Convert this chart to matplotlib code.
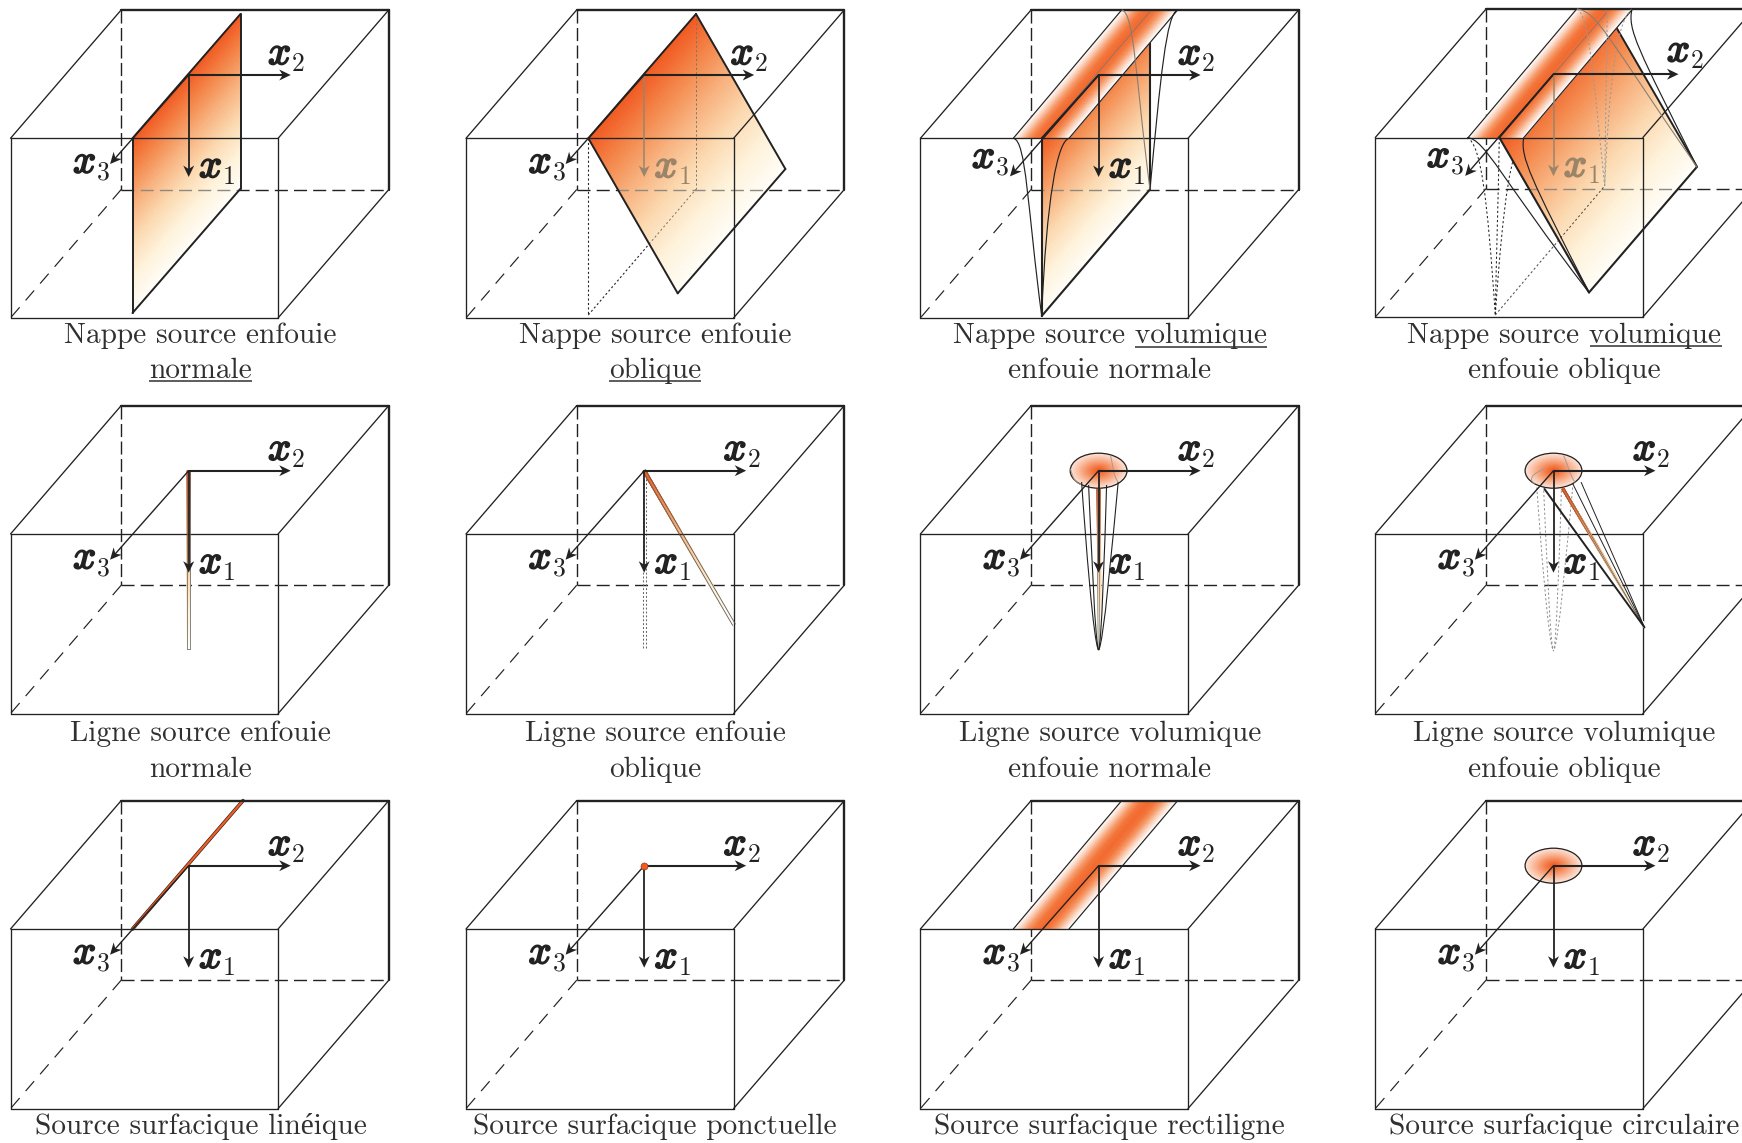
import numpy as np
import matplotlib
matplotlib.use("Agg")
import matplotlib.pyplot as plt
import matplotlib.patheffects as pe
from matplotlib.colors import LinearSegmentedColormap
from matplotlib.patches import Ellipse, PathPatch, Polygon
from matplotlib.path import Path

plt.rcParams['lines.scale_dashes'] = False

# panel grid, in picture pixels
col_left = [10.5, 466, 920.4, 1375.3]
row_top = [138.3, 534, 929]
box_w = 267.6
box_h = 179.6
depth = (110.7, -128.4)

# axes, relative to the front top left corner of the box
origin = (178.2, -63.3)
x1_len = 102
x2_len = 102
x3_tip = (-78.6, 89)

captions = [
    ["Nappe source enfouie\nnormale", "Nappe source enfouie\noblique",
     "Nappe source volumique\nenfouie normale", "Nappe source volumique\nenfouie oblique"],
    ["Ligne source enfouie\nnormale", "Ligne source enfouie\noblique",
     "Ligne source volumique\nenfouie normale", "Ligne source volumique\nenfouie oblique"],
    ["Source surfacique linéique", "Source surfacique ponctuelle",
     "Source surfacique rectiligne", "Source surfacique circulaire"],
]
caption_x = [200.5, 655, 1109.7, 1564]
caption_y = [(343, 378), (741, 777), (1133.5, None)]
underlines = [(149, 252, 381), (609, 701, 381), (1135, 1267, 346.5), (1590, 1722, 345.7)]

# source shapes, relative to the front top left corner
sheet_normal = [(122, 0), (230, -124.3), (122, 174.7)]
sheet_oblique = [(122.3, 0), (230, -124.3), (211.7, 155)]
sheet_vol_normal = [(121.3, 0), (229.6, -126.6), (121.3, 177.7)]
sheet_vol_oblique = [(124, 0), (232, -125.7), (213.7, 155)]
strip_front = (92.9, 148.6)
strip_back = (201.3, 257.3)
line_normal_end = (178.2, 115)
line_oblique_end = (268, 90.7)
disc_r = (28.4, 17.5)

normal_curves = [
    [(92.9, 0), (106, 2), (107, 70), (121.3, 177.7)],
    [(148.6, 0), (137, 3), (126, 60), (121.3, 177.7)],
    [(257.3, -128.3), (246, -125), (240, -60), (229.6, 51)],
]
normal_curve_grey = [(201.3, -128.3), (214, -126), (215, -60), (229.6, 51)]

oblique_curves = [
    [(92, 0), (110, 2), (125, 40), (213.7, 155)],
    [(148.4, 0), (145, 20), (155, 40), (213.7, 155)],
    [(256.7, -128.5), (252, -108), (262, -90), (322, 30)],
]
oblique_curve_grey = [(201.7, -128.5), (222, -126), (232, -100), (322, 30)]
oblique_dotted = [
    [(92, 0), (106, 8), (112, 60), (120, 177.5)],
    [(124, 0), (123, 60), (121, 120), (120, 177.5)],
    [(148.4, 0), (136, 10), (128, 60), (120, 177.5)],
]
oblique_dotted_grey = [
    [(201.7, -128.5), (214, -122), (218, -60), (229.4, 48.5)],
    [(232, -126), (231, -60), (230, 0), (229.4, 48.5)],
    [(256.7, -128.5), (240, -115), (234, -50), (229.4, 48.5)],
]

# cone starts, relative to the cone tip
cone_outer = [(-17, -168), (-13, -110), (-5, -6), (0, 0)]
cone_inner = [(-10, -165), (-7, -100), (-3.5, -6), (0, 0)]
cone_outer_r = [(19.6, -168), (14, -110), (5, -6), (0, 0)]
cone_inner_r = [(8, -165), (6, -100), (3, -6), (0, 0)]
oblique_line_starts = [(19.4, 13.3), (27.7, 11.7)]
oblique_line_bold = (-9, 18.3)
oblique_line_mid = (9.4, 18)
cone_oblique_end = (91, 156.7)

orange = "#f15a22"
ink = "#222222"
cap_ink = "#303030"
grey_arrow = "#9b8468"

sheet_cmap = LinearSegmentedColormap.from_list(
    "sheet", ["#f15a22", "#f48a4e", "#f8b684", "#fcdcb4", "#fef3dc", "#fffef8"])
strip_cmap = LinearSegmentedColormap.from_list(
    "strip", ["#ffffff", "#fbd3bd", "#f79a68", "#f3773d", "#f26a30", "#f3773d", "#f79a68", "#fbd3bd", "#ffffff"])
disc_cmap = LinearSegmentedColormap.from_list(
    "disc", ["#f15a22", "#f58654", "#f9b898", "#fde6db"])


def rel(f, pts):
    return [(f[0] + p[0], f[1] + p[1]) for p in pts]


def seg(ax, a, b, lw=0.95, color=ink, z=3, dashes=None):
    line, = ax.plot([a[0], b[0]], [a[1], b[1]], lw=lw, color=color, zorder=z,
                    solid_capstyle="round")
    if dashes:
        line.set_dashes(dashes)
    return line


def bez(ax, pts, lw=0.8, color=ink, z=4, ls="-"):
    path = Path(pts, [Path.MOVETO, Path.CURVE4, Path.CURVE4, Path.CURVE4])
    ax.add_patch(PathPatch(path, fc="none", ec=color, lw=lw, zorder=z, ls=ls))


def grad_quad(ax, p00, p01, p10, cmap=sheet_cmap, across=False, z=2):
    # parallelogram filled along p00->p10, or along p00->p01 when across is set
    u = np.linspace(0, 1, 30)
    uu, vv = np.meshgrid(u, u)
    p00, p01, p10 = np.array(p00), np.array(p01), np.array(p10)
    X = p00[0] + uu * (p01[0] - p00[0]) + vv * (p10[0] - p00[0])
    Y = p00[1] + uu * (p01[1] - p00[1]) + vv * (p10[1] - p00[1])
    ax.pcolormesh(X, Y, uu if across else vv, shading="gouraud", cmap=cmap,
                  vmin=0, vmax=1, zorder=z)


def disc(ax, c, z=3.5):
    r = np.linspace(0, 1, 24)
    t = np.linspace(0, 2 * np.pi, 73)
    rr, tt = np.meshgrid(r, t)
    X = c[0] + disc_r[0] * rr * np.cos(tt)
    Y = c[1] + disc_r[1] * rr * np.sin(tt)
    ax.pcolormesh(X, Y, rr, shading="gouraud", cmap=disc_cmap, vmin=0, vmax=1, zorder=z)
    ax.add_patch(Ellipse(c, 2 * disc_r[0], 2 * disc_r[1], fc="none", ec=ink, lw=0.9, zorder=z + 0.1))


def strip(ax, f):
    fl, fr = strip_front
    bl, br = strip_back
    grad_quad(ax, (f[0] + fl, f[1]), (f[0] + fr, f[1]),
              (f[0] + bl, f[1] + depth[1]), cmap=strip_cmap, across=True, z=2.6)
    seg(ax, (f[0] + fl, f[1]), (f[0] + bl, f[1] + depth[1]), lw=0.85, z=2.7)
    seg(ax, (f[0] + fr, f[1]), (f[0] + br, f[1] + depth[1]), lw=0.85, z=2.7)


def arrow(ax, a, b, lw=1.4, color=ink, z=5):
    a, b = np.array(a, float), np.array(b, float)
    d = (b - a) / np.hypot(*(b - a))
    n = np.array([-d[1], d[0]])
    seg(ax, a, b - 4 * d, lw=lw, color=color, z=z)
    ax.add_patch(Polygon([b, b - 11.5 * d + 5.5 * n, b - 8 * d, b - 11.5 * d - 5.5 * n],
                         closed=True, fc=color, ec="none", zorder=z))


def axis_label(ax, x, y, sub, color=ink):
    ax.text(x, y, "x", family="cmmi10", fontsize=29, color=color, ha="left", va="baseline", zorder=6,
            path_effects=[pe.withStroke(linewidth=1.3, foreground=color)])
    ax.text(x + 24, y + 7, sub, family="cmr10", fontsize=18.5,
            color=color, ha="left", va="baseline", zorder=6)


back_h = (9.4, 4.4)


def box(ax, f):
    x, y = f
    dx, dy = depth
    w, h = box_w, box_h
    back_v = (9.4, 3.2)
    back_d = (9.4, 6.6)
    seg(ax, (x + dx, y + dy), (x + dx, y + dy + h), lw=1.0, z=1, dashes=back_v)
    seg(ax, (x + dx, y + dy + h), (x + dx + w, y + dy + h), lw=1.0, z=1, dashes=back_h)
    seg(ax, (x + dx, y + dy + h), (x, y + h), lw=0.85, z=1, dashes=back_d)
    seg(ax, (x, y), (x + w, y))
    seg(ax, (x, y + h), (x + w, y + h))
    seg(ax, (x, y), (x, y + h))
    seg(ax, (x + w, y), (x + w, y + h))
    seg(ax, (x, y), (x + dx, y + dy))
    seg(ax, (x + w, y), (x + w + dx, y + dy))
    seg(ax, (x + w, y + h), (x + w + dx, y + h + dy))
    seg(ax, (x + dx, y + dy), (x + dx + w, y + dy), lw=1.7)
    seg(ax, (x + w + dx, y + dy), (x + w + dx, y + dy + h), lw=1.7)


def sheet(ax, f, corners, outline=True):
    a, b, c = rel(f, corners)
    d = (b[0] + c[0] - a[0], b[1] + c[1] - a[1])
    grad_quad(ax, a, b, c)
    # back edge of the box, seen through the sheet
    clip = Polygon([a, b, d, c], closed=True, transform=ax.transData)
    ghost = seg(ax, (f[0] + depth[0], f[1] + depth[1] + box_h),
                (f[0] + depth[0] + box_w, f[1] + depth[1] + box_h),
                lw=1.0, color="#8f8a80", z=2.1, dashes=back_h)
    ghost.set_clip_path(clip)
    if outline:
        for p, q in [(a, b), (b, d), (d, c), (c, a)]:
            seg(ax, p, q, lw=1.4, z=3.2)
    return a, b, c, d


fig = plt.figure(figsize=(17.42, 11.43), dpi=100)
ax = fig.add_axes([0, 0, 1, 1])
ax.set_xlim(0, 1742)
ax.set_ylim(1143, 0)

for r, top in enumerate(row_top):
    for c, left in enumerate(col_left):
        fy = top - 0.8 if (r, c) == (0, 3) else top
        f = (left, fy)
        o = (f[0] + origin[0], f[1] + origin[1])
        box(ax, f)

        x2_tip = x2_len
        x2_shift = (0, 0)
        x3_end = x3_tip
        x3_shift = (0, 0)
        faded = False

        if (r, c) == (0, 0):
            sheet(ax, f, sheet_normal)
        elif (r, c) == (0, 1):
            a, b, cc, d = sheet(ax, f, sheet_oblique)
            low = (a[0], f[1] + 176.7)
            back = (b[0], f[1] + 51)
            for p, q in [(a, low), (low, back), (b, back)]:
                seg(ax, p, q, lw=0.8, z=1.5, dashes=(1.5, 1.7))
                seg(ax, p, q, lw=0.7, z=2.2, color="#7a7468", dashes=(1.5, 1.7)).set_clip_path(
                    Polygon([a, b, d, cc], closed=True, transform=ax.transData))
            x2_tip = 110
            x2_shift = (7, 0)
            faded = True
        elif (r, c) == (0, 2):
            a, b, cc, d = sheet(ax, f, sheet_vol_normal, outline=False)
            seg(ax, a, cc, lw=1.5, z=3.2)
            seg(ax, cc, d, lw=1.5, z=3.2)
            seg(ax, b, d, lw=1.5, z=2.3)
            strip(ax, f)
            seg(ax, a, b, lw=0.5, color="#777777", z=2.8)
            seg(ax, a, o, lw=1.4, z=3.2)
            for pts in normal_curves:
                bez(ax, rel(f, pts), lw=0.85)
            bez(ax, rel(f, normal_curve_grey), lw=0.8, color="#8a7d72")
            x3_end = (-88.6, 101.4)
            x3_shift = (-11, -5)
        elif (r, c) == (0, 3):
            a, b, cc, d = sheet(ax, f, sheet_vol_oblique, outline=False)
            seg(ax, a, cc, lw=1.5, z=3.2)
            seg(ax, cc, d, lw=1.5, z=3.2)
            seg(ax, b, d, lw=1.4, z=2.3)
            strip(ax, f)
            seg(ax, a, b, lw=0.5, color="#777777", z=2.8)
            seg(ax, a, o, lw=1.4, z=3.2)
            for pts in oblique_curves:
                bez(ax, rel(f, pts), lw=0.85)
            bez(ax, rel(f, oblique_curve_grey), lw=0.8, color="#8a7d72")
            for pts in oblique_dotted:
                bez(ax, rel(f, pts), lw=0.75, z=1.5, ls=(0, (1.6, 1.7)))
            for pts in oblique_dotted_grey:
                bez(ax, rel(f, pts), lw=0.75, color="#9a9a9a", z=3.3, ls=(0, (1.6, 1.7)))
            seg(ax, (f[0] + 120, f[1] + 177.5), (f[0] + 229.4, f[1] + 48.5), lw=0.75, z=2.2,
                color="#55504a", dashes=(1.6, 1.7))
            x2_tip = 125
            x2_shift = (34, -2)
            x3_end = (-88.3, 101.7)
            x3_shift = (-11, -5)
            faded = True
        elif (r, c) == (1, 0):
            end = (f[0] + line_normal_end[0], f[1] + line_normal_end[1])
            grad_quad(ax, (o[0] - 1.5, o[1]), (o[0] + 1.5, o[1]), (end[0] - 1.5, end[1]))
            for s in (-1.5, 1.5):
                seg(ax, (o[0] + s, o[1]), (end[0] + s, end[1]), lw=0.55, color="#666666", z=3)
            seg(ax, (end[0] - 1.5, end[1]), (end[0] + 1.5, end[1]), lw=0.55, color="#666666", z=3)
        elif (r, c) == (1, 1):
            end = (f[0] + line_oblique_end[0], f[1] + line_oblique_end[1])
            low = (o[0], f[1] + line_normal_end[1])
            grad_quad(ax, (o[0] - 1.3, o[1] + 0.7), (o[0] + 1.3, o[1] - 0.7), (end[0] - 1.3, end[1] + 0.7))
            for s in (-1.3, 1.3):
                seg(ax, (o[0] + s, o[1] - 0.55 * s), (end[0] + s, end[1] - 0.55 * s), lw=0.55, color="#555555", z=3)
                seg(ax, (o[0] + s, o[1]), (low[0] + s, low[1]), lw=0.75, color="#666666", z=1.5, dashes=(1.4, 1.4))
        elif (r, c) == (1, 2):
            disc(ax, o)
            tip = (o[0], f[1] + 116)
            for pts in (cone_outer, cone_inner, cone_outer_r, cone_inner_r):
                bez(ax, rel(tip, pts), lw=0.8)
            grad_quad(ax, (o[0] - 1.5, o[1] + 17), (o[0] + 1.5, o[1] + 17), (tip[0] - 0.5, tip[1]), z=3)
            for s in (-1.5, 1.5):
                seg(ax, (o[0] + s, o[1] + 17), (tip[0] + s / 3, tip[1]), lw=0.5, color="#777777", z=3)
            bez(ax, [(o[0] - 28, o[1] - 2), (o[0] - 26, o[1] + 8), (o[0] - 22, o[1] + 13), (o[0] - 17, o[1] + 14)],
                lw=0.7, color="#aa9a90", z=3.7)
            bez(ax, [(o[0] + 12, o[1] - 15), (o[0] + 14, o[1] - 8), (o[0] + 14, o[1] + 5), (o[0] + 20, o[1] + 12)],
                lw=0.7, color="#aa9a90", z=3.7)
        elif (r, c) == (1, 3):
            disc(ax, o)
            tip = (o[0] + cone_oblique_end[0], o[1] + cone_oblique_end[1])
            low = (o[0], f[1] + 117)
            m = (o[0] + oblique_line_mid[0], o[1] + oblique_line_mid[1])
            grad_quad(ax, (m[0] - 0.9, m[1] + 0.5), (m[0] + 0.9, m[1] - 0.5), (tip[0] - 0.4, tip[1] + 0.2), z=3)
            for s in (-1.0, 1.0):
                seg(ax, (m[0] + s, m[1] - 0.55 * s), (tip[0], tip[1]), lw=0.45, color="#6b5a4c", z=3)
            seg(ax, (o[0] + oblique_line_bold[0], o[1] + oblique_line_bold[1]), tip, lw=1.4, z=4)
            for s in oblique_line_starts:
                seg(ax, (o[0] + s[0], o[1] + s[1]), tip, lw=0.7, z=4)
            for pts in (cone_outer, cone_inner, cone_outer_r, cone_inner_r):
                bez(ax, rel(low, pts), lw=0.7, color="#8c8c8c", z=1.5, ls=(0, (1.6, 1.6)))
            bez(ax, [(o[0] - 8, o[1] - 2), (o[0] - 20, o[1] + 2), (o[0] - 26, o[1] + 8), (o[0] - 19, o[1] + 13)],
                lw=0.7, color="#aa9a90", z=3.7)
            bez(ax, [(o[0] + 10, o[1] - 15), (o[0] + 14, o[1] - 8), (o[0] + 16, o[1] + 5), (o[0] + 22, o[1] + 12)],
                lw=0.7, color="#aa9a90", z=3.7)
        elif (r, c) == (2, 0):
            a = (f[0] + 122, f[1])
            b = (f[0] + 232.5, f[1] + depth[1])
            seg(ax, a, b, lw=2.6, color=ink, z=2.8)
            seg(ax, a, b, lw=1.7, color=orange, z=2.9)
        elif (r, c) == (2, 1):
            ax.plot([o[0]], [o[1]], "o", ms=5, mfc=orange, mec="#8a3a12", mew=0.5, zorder=6)
        elif (r, c) == (2, 2):
            strip(ax, f)
        elif (r, c) == (2, 3):
            disc(ax, o)

        x1_color = grey_arrow if faded else ink
        arrow(ax, (o[0], o[1]), (o[0], o[1] + x1_len), lw=1.1 if faded else 1.3, color=x1_color)
        arrow(ax, (o[0], o[1]), (o[0] + x2_tip, o[1]), lw=1.5)
        arrow(ax, (o[0], o[1]), (o[0] + x3_end[0], o[1] + x3_end[1]), lw=1.0)
        axis_label(ax, o[0] + 10.4, o[1] + 102, "1", color=x1_color)
        axis_label(ax, o[0] + 79.4 + x2_shift[0], o[1] - 11 + x2_shift[1], "2")
        axis_label(ax, o[0] - 115.6 + x3_shift[0], o[1] + 97.5 + x3_shift[1], "3")

        lines = captions[r][c].split("\n")
        for txt, y in zip(lines, caption_y[r]):
            ax.text(caption_x[c], y, txt, family=["cmr10", "Liberation Serif"], fontsize=21.15,
                    color=cap_ink, ha="center", va="baseline", zorder=6)

for x0, x1, y in underlines:
    ax.plot([x0, x1], [y, y], color=cap_ink, lw=1.1, zorder=6, solid_capstyle="butt")

ax.axis("off")
fig.savefig("out.png", dpi=100)
